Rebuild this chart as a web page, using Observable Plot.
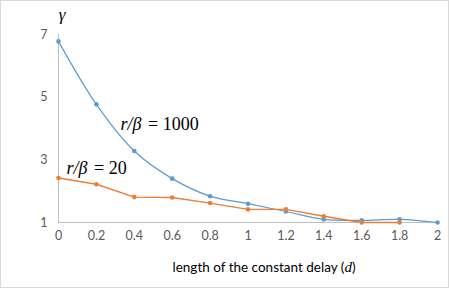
<!DOCTYPE html>
<html><head><meta charset="utf-8">
<script src="https://cdn.jsdelivr.net/npm/d3@7"></script>
<script src="https://cdn.jsdelivr.net/npm/@observablehq/plot@0.6"></script>
<style>
body{margin:0;background:#fff;}
#chart{width:449px;height:288px;}
</style></head>
<body><div id="chart"></div>
<script>
const dValues = [0, 0.2, 0.4, 0.6, 0.8, 1, 1.2, 1.4, 1.6, 1.8, 2];
const gamma1000 = [6.78, 4.77, 3.28, 2.40, 1.84, 1.60, 1.35, 1.10, 1.07, 1.10, 1.00];
const dValues20 = [0, 0.2, 0.4, 0.6, 0.8, 1, 1.2, 1.4, 1.6, 1.8];
const gamma20 = [2.42, 2.22, 1.81, 1.80, 1.62, 1.42, 1.42, 1.20, 1.00, 1.00];
const xTicks = [0, 0.2, 0.4, 0.6, 0.8, 1, 1.2, 1.4, 1.6, 1.8, 2];
const yTicks = [1, 3, 5, 7];
const seriesNames = ["r/β = 1000", "r/β = 20"];

const s1000 = dValues.map((d, i) => ({d, g: gamma1000[i]}));
const s20 = dValues20.map((d, i) => ({d, g: gamma20[i]}));

const blue = "#5B9BD5", orange = "#ED7D31", grey = "#595959";

const plot = Plot.plot({
  width: 449, height: 288,
  marginLeft: 58, marginRight: 12, marginTop: 34, marginBottom: 66,
  style: {fontFamily: "Lato, 'Open Sans', sans-serif", fontSize: "12.5px", color: grey, background: "#fff"},
  x: {domain: [0, 2], ticks: xTicks, tickSize: 0, tickPadding: 9, label: null, tickFormat: d => String(d)},
  y: {domain: [1, 7], ticks: yTicks, tickSize: 0, tickPadding: 11, label: null, tickFormat: d => String(d)},
  marks: [
    Plot.ruleX([0], {stroke: "#bfbfbf", strokeWidth: 1}),
    Plot.ruleY([1], {stroke: "#bfbfbf", strokeWidth: 1}),
    Plot.line(s1000, {x: "d", y: "g", stroke: blue, strokeWidth: 1.2, curve: "catmull-rom"}),
    Plot.dot(s1000, {x: "d", y: "g", fill: blue, r: 2.3}),
    Plot.line(s20, {x: "d", y: "g", stroke: orange, strokeWidth: 1.4}),
    Plot.dot(s20, {x: "d", y: "g", fill: orange, r: 2.3})
  ]
});
document.getElementById("chart").appendChild(plot);

const svg = d3.select(plot);
const xs = plot.scale("x"), ys = plot.scale("y");
const serif = "'Liberation Serif', 'DejaVu Serif', serif";

function mathLabel(txt, xv, yv) {
  const [lhs, rhs] = txt.split(" = ");
  const t = svg.append("text")
    .attr("x", xs.apply(xv)).attr("y", ys.apply(yv))
    .attr("dy", "0.35em").attr("text-anchor", "start")
    .attr("font-family", serif).attr("font-size", 18).attr("fill", "#000");
  t.append("tspan").attr("font-style", "italic").text(lhs);
  t.append("tspan").attr("dx", 2).text(" = ");
  t.append("tspan").text(rhs);
}
mathLabel(seriesNames[0], 0.33, 4.13);
mathLabel(seriesNames[1], 0.045, 2.72);

// gamma axis label
svg.append("text")
  .attr("x", xs.apply(0) + 4).attr("y", 14).attr("dy", "0.35em")
  .attr("text-anchor", "middle")
  .attr("font-family", serif).attr("font-style", "italic").attr("font-size", 17).attr("fill", "#000")
  .text("γ");

// x axis title
const xt = svg.append("text")
  .attr("x", 264).attr("y", 267).attr("dy", "0.35em")
  .attr("text-anchor", "middle")
  .attr("font-family", "Lato, sans-serif").attr("font-size", 13.5).attr("fill", "#000");
xt.append("tspan").text("length of the constant delay (");
xt.append("tspan").attr("font-family", serif).attr("font-style", "italic").attr("font-size", 15).text("d");
xt.append("tspan").text(")");

// chart border
svg.append("rect").attr("x", 0.5).attr("y", 0.5).attr("width", 448).attr("height", 287)
  .attr("fill", "none").attr("stroke", "#d9d9d9");
</script></body></html>
